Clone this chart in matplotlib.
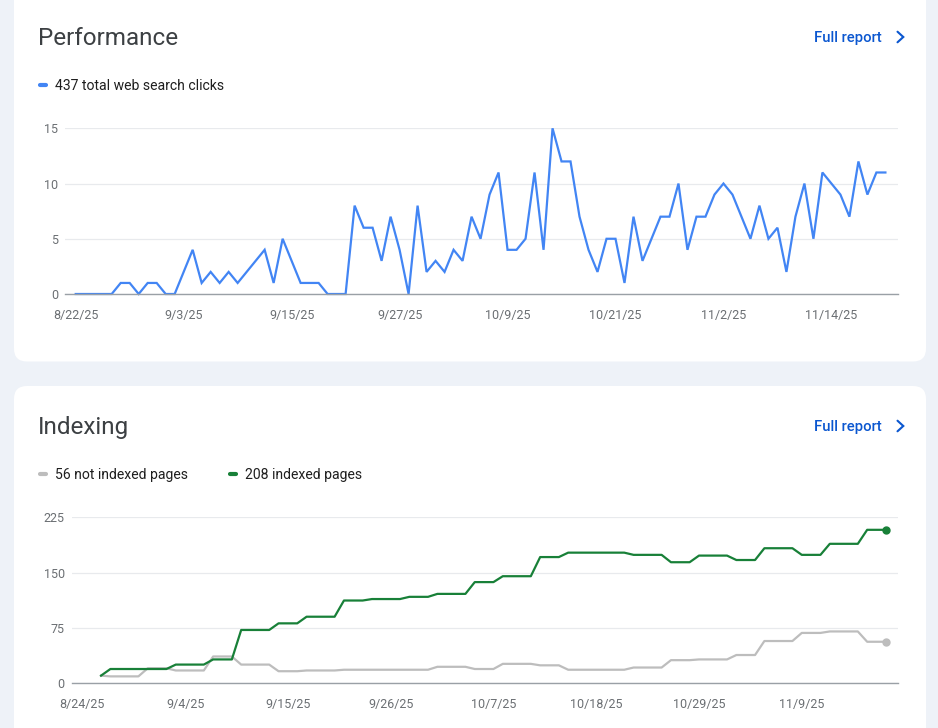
import matplotlib
matplotlib.use("Agg")
import matplotlib.pyplot as plt
from matplotlib.patches import FancyBboxPatch
from matplotlib.lines import Line2D
import pandas as pd

plt.rcParams['font.family'] = ['Roboto', 'DejaVu Sans']

W, H = 938, 728

# daily web search clicks, 8/22/25 .. 11/20/25
clicks = [0, 0, 0, 0, 0, 1, 1, 0, 1, 1,
          0, 0, 2, 4, 1, 2, 1, 2, 1, 2,
          3, 4, 1, 5, 3, 1, 1, 1, 0, 0,
          0, 8, 6, 6, 3, 7, 4, 0, 8, 2,
          3, 2, 4, 3, 7, 5, 9, 11, 4, 4,
          5, 11, 4, 15, 12, 12, 7, 4, 2, 5,
          5, 1, 7, 3, 5, 7, 7, 10, 4, 7,
          7, 9, 10, 9, 7, 5, 8, 5, 6, 2,
          7, 10, 5, 11, 10, 9, 7, 12, 9, 11,
          11]
clicks_start = "2025-08-22"
clicks_ticks = ["8/22/25", "9/3/25", "9/15/25", "9/27/25",
                "10/9/25", "10/21/25", "11/2/25", "11/14/25"]
clicks_yticks = [0, 5, 10, 15]

# daily page counts, 8/26/25 .. 11/18/25
not_indexed = [10, 9, 9, 9, 9, 20, 20, 20, 17, 17,
               17, 17, 36, 36, 36, 25, 25, 25, 25, 16,
               16, 16, 17, 17, 17, 17, 18, 18, 18, 18,
               18, 18, 18, 18, 18, 18, 22, 22, 22, 22,
               19, 19, 19, 26, 26, 26, 26, 24, 24, 24,
               18, 18, 18, 18, 18, 18, 18, 21, 21, 21,
               21, 31, 31, 31, 32, 32, 32, 32, 38, 38,
               38, 57, 57, 57, 57, 68, 68, 68, 70, 70,
               70, 70, 56, 56, 56]
indexed = [10, 19, 19, 19, 19, 19, 19, 19, 25, 25,
           25, 25, 32, 32, 32, 72, 72, 72, 72, 81,
           81, 81, 90, 90, 90, 90, 112, 112, 112, 114,
           114, 114, 114, 117, 117, 117, 121, 121, 121, 121,
           137, 137, 137, 145, 145, 145, 145, 171, 171, 171,
           177, 177, 177, 177, 177, 177, 177, 174, 174, 174,
           174, 164, 164, 164, 173, 173, 173, 173, 167, 167,
           167, 183, 183, 183, 183, 174, 174, 174, 189, 189,
           189, 189, 208, 208, 208]
index_start = "2025-08-26"
index_ticks = ["8/24/25", "9/4/25", "9/15/25", "9/26/25",
               "10/7/25", "10/18/25", "10/29/25", "11/9/25"]
index_yticks = [0, 75, 150, 225]

BG = "#eef2f8"
BLUE = "#4285f4"
GREEN = "#188038"
GREY = "#bdbdbd"
LINK = "#0b57d0"


def inch(x, y):
    # pixel position (from top-left) -> figure inches
    return x / 100, (H - y) / 100


def ax_rect(left, top, right, bottom):
    return [left / W, 1 - bottom / H, (right - left) / W, (bottom - top) / H]


def card(fig, left, top, right, bottom):
    x0, y0 = inch(left, bottom)
    box = FancyBboxPatch((x0, y0), (right - left) / 100, (bottom - top) / 100,
                         boxstyle="round,pad=0,rounding_size=0.13",
                         transform=fig.dpi_scale_trans, facecolor="white",
                         edgecolor="none", zorder=-10)
    fig.patches.append(box)


def header(fig, title, y):
    # text sits ~1.5px high with va=center, so nudge it down
    fig.text(38 / W, 1 - (y + 1.5) / H, title, fontsize=17.5, color="#3c4043",
             va="center", ha="left")
    fig.text(814 / W, 1 - (y + 1.2) / H, "Full report", fontsize=10.6, color=LINK,
             fontweight="medium", va="center", ha="left")
    xs, ys = zip(inch(897.5, y - 5.3), inch(903.3, y), inch(897.5, y + 5.3))
    fig.add_artist(Line2D(xs, ys, transform=fig.dpi_scale_trans, color=LINK,
                          lw=1.5, solid_capstyle="round", solid_joinstyle="miter"))


def legend_item(fig, x, y, label, color):
    xs, ys = zip(inch(x + 2, y), inch(x + 8, y))
    fig.add_artist(Line2D(xs, ys, transform=fig.dpi_scale_trans, color=color,
                          lw=3, solid_capstyle="round"))
    fig.text((x + 17) / W, 1 - (y + 1) / H, label, fontsize=10.1, color="#1f1f1f",
             va="center", ha="left")


def style_axes(ax, ticks, yticks, first, lo, hi):
    for side in ["top", "right", "left"]:
        ax.spines[side].set_visible(False)
    ax.spines["bottom"].set_color("#9aa0a6")
    ax.spines["bottom"].set_linewidth(1)
    ax.grid(axis="y", color="#e8eaed", lw=0.9)
    ax.set_axisbelow(True)
    tick_dates = pd.to_datetime(ticks, format="%m/%d/%y")
    ax.set_xticks(tick_dates)
    ax.set_xticklabels(ticks)
    ax.set_yticks(yticks)
    ax.set_ylim(yticks[0], yticks[-1])
    ax.set_xlim(first + pd.Timedelta(days=lo), first + pd.Timedelta(days=hi))
    ax.tick_params(length=0, labelsize=9, colors="#6b6f73")
    ax.tick_params(axis="x", pad=10.5)
    ax.tick_params(axis="y", pad=5)
    ax.set_facecolor("none")


fig = plt.figure(figsize=(W / 100, H / 100), dpi=100, facecolor=BG)

card(fig, 14, -30, 926, 361.5)
card(fig, 14, 386, 926, 760)

# Performance
header(fig, "Performance", 37)
legend_item(fig, 38, 85, "437 total web search clicks", BLUE)

ax1 = fig.add_axes(ax_rect(65, 128.3, 898, 294))
d1 = pd.date_range(clicks_start, periods=len(clicks))
ax1.plot(d1, clicks, color=BLUE, lw=1.6, clip_on=False, solid_joinstyle="miter")
style_axes(ax1, clicks_ticks, clicks_yticks, d1[0], -1.19, 91.4)

# Indexing
header(fig, "Indexing", 426)
legend_item(fig, 38, 474, "56 not indexed pages", GREY)
legend_item(fig, 228, 474, "208 indexed pages", GREEN)

ax2 = fig.add_axes(ax_rect(71.7, 517.3, 898, 683))
d2 = pd.date_range(index_start, periods=len(indexed))
ax2.plot(d2, not_indexed, color=GREY, lw=1.6, clip_on=False)
ax2.plot(d2, indexed, color=GREEN, lw=1.6, clip_on=False)
ax2.plot(d2[-1], not_indexed[-1], "o", color=GREY, ms=5, clip_on=False)
ax2.plot(d2[-1], indexed[-1], "o", color=GREEN, ms=5, clip_on=False)
style_axes(ax2, index_ticks, index_yticks, d2[0], -3.14, 85.3)

fig.savefig("out.png", dpi=100, facecolor=BG)
